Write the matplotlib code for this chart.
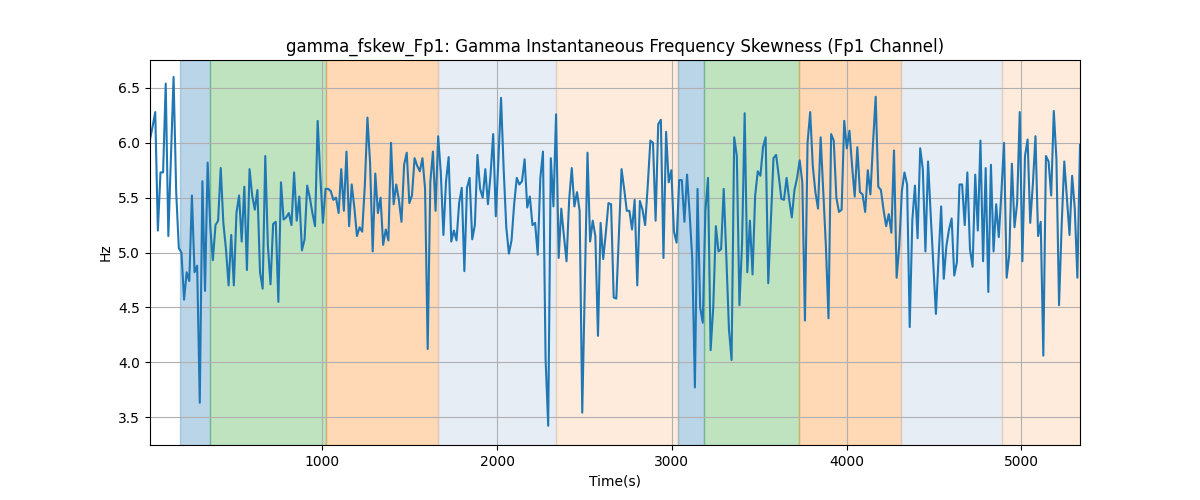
import numpy as np
import matplotlib as mpl

mpl.use("Agg")
import matplotlib.pyplot as plt

# time span of the recording (seconds)
t_start, t_end = 14, 5335

# gamma instantaneous frequency skewness
values = [
    6.03, 6.15, 6.28, 5.20, 5.73, 5.73, 6.54, 5.15, 5.88, 6.60,
    5.55, 5.04, 5.00, 4.57, 4.82, 4.74, 5.52, 4.82, 4.88, 3.63,
    5.65, 4.65, 5.82, 5.24, 4.93, 5.25, 5.29, 5.77, 5.27, 5.03,
    4.70, 5.16, 4.70, 5.36, 5.52, 5.10, 5.60, 4.84, 5.76, 5.52,
    5.39, 5.57, 4.82, 4.67, 5.88, 5.06, 4.71, 5.26, 5.28, 4.55,
    5.64, 5.30,
    5.32, 5.36, 5.25, 5.73, 5.29, 5.51, 5.02, 5.12, 5.61, 5.50,
    5.36, 5.24, 6.20, 5.70, 5.27, 5.58, 5.58, 5.56, 5.48, 5.50,
    5.36, 5.76, 5.38, 5.92, 5.24, 5.62, 5.41, 5.15, 5.23, 5.19,
    5.61, 6.23, 5.82, 5.01, 5.72, 5.36, 5.50, 5.07, 5.21, 5.11,
    6.00, 5.44, 5.62, 5.48, 5.28, 5.80, 5.91, 5.45, 5.52, 5.86,
    5.79,
    5.74, 5.86, 5.58, 4.12, 5.64, 5.92, 5.38, 6.06, 5.73, 5.16,
    5.65, 5.87, 5.10, 5.20, 5.11, 5.45, 5.59, 4.83, 5.59, 5.68,
    5.12, 5.25, 5.89, 5.58, 5.50, 5.76, 5.44, 5.71, 6.08, 5.33,
    5.85, 6.41, 5.76, 5.23, 4.99, 5.11, 5.44, 5.68, 5.62, 5.65,
    5.85, 5.41, 5.51, 5.25, 5.27, 4.98, 5.68, 5.92, 4.03, 3.42,
    5.86,
    5.42, 6.26, 4.95, 5.40, 5.15, 4.92, 5.48, 5.77, 5.42, 5.55,
    5.38, 3.54, 4.73, 5.91, 5.10, 5.29, 5.15, 4.24, 5.27, 4.94,
    5.18, 5.45, 5.44, 4.59, 4.58, 5.18, 5.76, 5.58, 5.38, 5.38,
    5.21, 5.48, 4.70, 5.47, 5.39, 5.25, 5.61, 6.02, 6.00, 5.29,
    6.17, 6.21, 4.95, 6.10, 5.64, 5.75, 5.19, 5.09, 5.66, 5.66,
    5.28, 5.71, 5.35, 4.94, 3.77, 5.58, 4.50, 4.36, 5.38, 5.68,
    4.11, 4.50, 5.24, 5.01, 5.03, 5.58, 4.96, 4.30, 4.02, 6.05,
    5.88, 4.52, 5.08, 6.27, 4.82, 5.29, 4.80, 5.52, 5.74, 5.70,
    5.96, 6.05, 4.72, 5.28, 5.86, 5.89, 5.70, 5.49, 5.48, 5.68,
    5.48, 5.32, 5.57, 5.68, 5.84, 5.64, 4.38, 6.00, 6.28, 5.79,
    5.55,
    5.40, 6.05, 5.55, 5.06, 4.40, 6.08, 6.02, 5.50, 5.37, 5.39,
    6.20, 5.95, 6.11, 5.79, 5.51, 5.96, 5.55, 5.53, 5.37, 5.75,
    5.53, 6.00, 6.42, 5.60, 5.57, 5.39, 5.24, 5.35, 5.18, 5.93,
    4.77, 5.06, 5.56, 5.73, 5.62, 4.32, 5.30, 5.61, 5.13, 5.95,
    5.76, 5.01, 5.83, 5.35, 4.90, 4.44, 4.95, 5.42, 4.76, 5.06,
    5.21,
    5.31, 4.79, 4.91, 5.62, 5.62, 5.25, 5.73, 5.03, 4.87, 5.71,
    5.20, 6.02, 4.92, 5.77, 4.64, 5.80, 5.01, 5.44, 5.14, 5.55,
    6.00, 4.77, 4.98, 5.81, 5.23, 5.45, 6.28, 4.92, 5.88, 6.03,
    5.27, 5.62, 6.06, 5.15, 5.28, 4.06, 5.88, 5.83, 5.52, 6.29,
    5.85, 4.52, 5.25, 5.83, 5.50, 5.16, 5.70, 5.40, 4.77, 5.98,
]

# shaded stage segments: (start, end, colour, alpha)
segments = [
    (186, 357, "tab:blue", 0.3),
    (357, 1019, "tab:green", 0.3),
    (1019, 1664, "tab:orange", 0.3),
    (1664, 2339, "lightsteelblue", 0.3),
    (2339, 3037, "tab:orange", 0.15),
    (3037, 3185, "tab:blue", 0.3),
    (3185, 3729, "tab:green", 0.3),
    (3729, 4309, "tab:orange", 0.3),
    (4309, 4890, "lightsteelblue", 0.3),
    (4890, 5335, "tab:orange", 0.15),
]

t = np.linspace(t_start, t_end, len(values))

fig, ax = plt.subplots(figsize=(12, 5))

for start, end, color, alpha in segments:
    ax.axvspan(start, end, color=color, alpha=alpha)

ax.plot(t, values, color="tab:blue", linewidth=1.5)

ax.set_xlim(t_start, t_end)
ax.set_ylim(3.245, 6.755)
ax.set_title("gamma_fskew_Fp1: Gamma Instantaneous Frequency Skewness (Fp1 Channel)")
ax.set_xlabel("Time(s)")
ax.set_ylabel("Hz")
ax.grid(True, color="#b0b0b0")

plt.savefig("out.png", dpi=100)
